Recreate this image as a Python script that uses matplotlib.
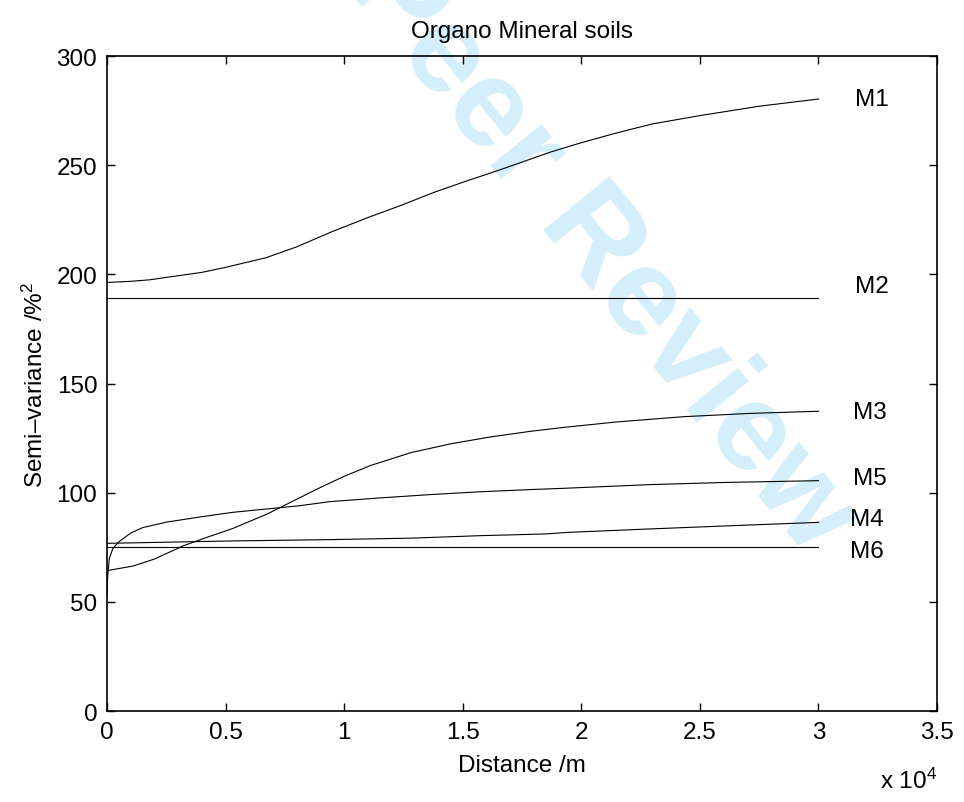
import matplotlib
matplotlib.use('Agg')
import matplotlib.pyplot as plt
from matplotlib.ticker import FuncFormatter, MultipleLocator

plt.rcParams['font.family'] = ['Liberation Sans', 'DejaVu Sans']
plt.rcParams['mathtext.fontset'] = 'custom'
plt.rcParams['mathtext.rm'] = 'Liberation Sans'
plt.rcParams['mathtext.it'] = 'Liberation Sans'

# Semi-variogram models (distance in m)
m1_x = [0, 1000, 1800, 2500, 4000, 5000, 6700, 8000, 9500, 11000, 12400, 13800, 15200, 16500,
        18700, 20000, 21500, 23000, 25000, 27500, 30000]
m1_y = [196.3, 196.8, 197.5, 198.6, 200.9, 203.2, 207.6, 212.6, 219.6, 226.0, 231.6, 237.6, 242.9, 247.6,
        256.0, 260.3, 264.8, 268.9, 272.7, 277.0, 280.3]

m2_x = [0, 30000]
m2_y = [189.2, 189.2]

m3_x = [0, 1100, 2000, 3200, 4200, 5300, 6750, 8000, 9000, 10000, 11100, 12800, 14500, 16150, 17850,
        19250, 21500, 24300, 27100, 30000]
m3_y = [64.3, 66.4, 69.6, 75.6, 79.5, 83.6, 90.2, 97.0, 102.4, 107.5, 112.4, 118.3, 122.4, 125.5, 128.1,
        129.9, 132.4, 134.8, 136.3, 137.3]

m4_x = [0, 5300, 9400, 12900, 15700, 18500, 19400, 22900, 27100, 30000]
m4_y = [76.8, 77.9, 78.5, 79.2, 80.3, 81.1, 81.8, 83.4, 85.2, 86.4]

m5_x = [0, 30, 100, 250, 500, 1000, 1500, 2500, 4000, 5300, 8100, 9400, 11500, 13600, 15700,
        17800, 19250, 22900, 26100, 30000]
m5_y = [53.0, 62.0, 70.0, 74.5, 77.5, 81.5, 84.0, 86.5, 89.0, 91.0, 94.0, 95.9, 97.6, 99.1, 100.4,
        101.4, 102.0, 103.7, 104.7, 105.5]

m6_x = [0, 30000]
m6_y = [75.0, 75.0]

labels = ['M1', 'M2', 'M3', 'M5', 'M4', 'M6']
label_y = [280.3, 194.7, 137.0, 106.7, 87.9, 73.3]
label_x = [31550, 31550, 31450, 31450, 31350, 31350]

fs = 17.5

fig = plt.figure(figsize=(9.64, 8.03), dpi=100)
ax = fig.add_axes([0.111, 0.1133, 0.861, 0.8157])
ax.patch.set_visible(False)

# watermark behind everything
fig.text(808 / 964, 1 - 558 / 803, 'For Peer Review', fontsize=90, fontweight='bold',
         color='#d4effb', rotation=-51, rotation_mode='anchor', ha='right', va='baseline', zorder=-5)

for xs, ys in [(m1_x, m1_y), (m2_x, m2_y), (m3_x, m3_y), (m4_x, m4_y), (m5_x, m5_y), (m6_x, m6_y)]:
    ax.plot(xs, ys, color='black', lw=0.8)

for lab, lx, ly in zip(labels, label_x, label_y):
    ax.text(lx, ly, lab, fontsize=fs, va='center', ha='left')

ax.set_xlim(0, 35000)
ax.set_ylim(0, 300)
ax.xaxis.set_major_locator(MultipleLocator(5000))
ax.yaxis.set_major_locator(MultipleLocator(50))
ax.xaxis.set_major_formatter(FuncFormatter(lambda v, p: '%g' % (v / 1e4)))

ax.tick_params(direction='in', length=6, width=1, labelsize=fs, top=True, right=True, pad=7)
for s in ax.spines.values():
    s.set_linewidth(1.2)

ax.set_title('Organo Mineral soils', fontsize=fs, pad=14)
ax.set_xlabel('Distance /m', fontsize=fs, labelpad=8)
ax.set_ylabel('Semi–variance /%$^2$', fontsize=fs, labelpad=6)

fig.text(937 / 964, 1 - 789 / 803, 'x 10$^4$', fontsize=fs, ha='right', va='baseline')

fig.savefig('out.png', dpi=100, facecolor='white')
